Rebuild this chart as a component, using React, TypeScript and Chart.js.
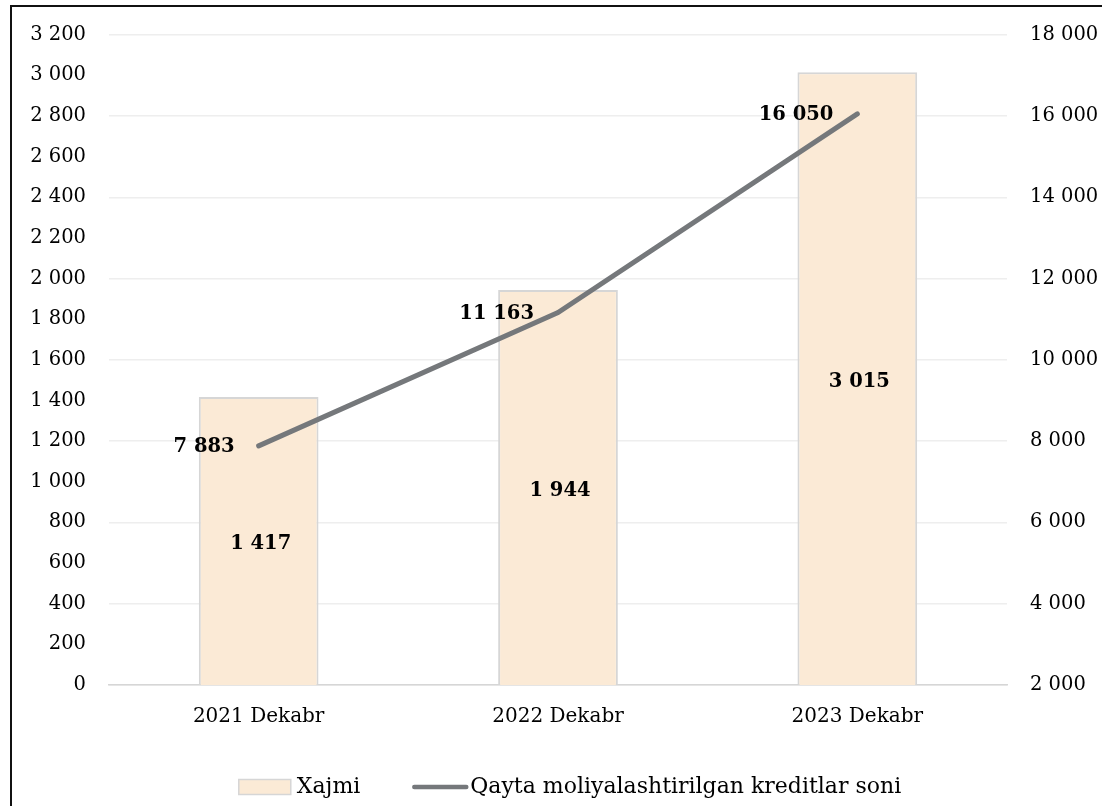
import React, { useEffect, useRef } from "react";
import { Chart, registerables } from "chart.js";

Chart.register(...registerables);

const categories = ["2021 Dekabr", "2022 Dekabr", "2023 Dekabr"];
const volumeValues = [1417, 1944, 3015];
const countValues = [7883, 11163, 16050];
const volumeLabel = "Xajmi";
const countLabel = "Qayta moliyalashtirilgan kreditlar soni";

const FONT = "'DejaVu Serif', serif";
const BAR_FILL = "#FBEAD6";
const BAR_BORDER = "#D6D6D6";
const LINE_COLOR = "#75787B";

const fmt = (v: number) => String(v).replace(/\B(?=(\d{3})+(?!\d))/g, " ");

const labelsPlugin = {
  id: "valueLabels",
  afterDatasetsDraw(chart: any) {
    const ctx = chart.ctx;
    ctx.save();
    ctx.fillStyle = "#000";
    ctx.font = `bold 19.5px ${FONT}`;
    ctx.textBaseline = "middle";
    const barMeta = chart.getDatasetMeta(0);
    barMeta.data.forEach((el: any, i: number) => {
      ctx.textAlign = "center";
      ctx.fillText(fmt(volumeValues[i]), el.x + 2, (el.y + el.base) / 2 + 3);
    });
    const lineMeta = chart.getDatasetMeta(1);
    lineMeta.data.forEach((el: any, i: number) => {
      ctx.textAlign = "right";
      ctx.fillText(fmt(countValues[i]), el.x - 24, el.y + 1);
    });
    ctx.restore();
  },
};

const legendPlugin = {
  id: "customLegend",
  afterDraw(chart: any) {
    const ctx = chart.ctx;
    ctx.save();
    ctx.font = `22px ${FONT}`;
    ctx.textBaseline = "middle";
    ctx.fillStyle = "#000";
    const y = 787;
    const boxW = 52;
    const lineW = 56;
    const w1 = ctx.measureText(volumeLabel).width;
    const w2 = ctx.measureText(countLabel).width;
    const total = boxW + 6 + w1 + 52 + lineW + 2 + w2;
    let x = 570 - total / 2;
    ctx.fillStyle = BAR_FILL;
    ctx.fillRect(x, y - 7.5, boxW, 15);
    ctx.strokeStyle = BAR_BORDER;
    ctx.lineWidth = 1.5;
    ctx.strokeRect(x, y - 7.5, boxW, 15);
    x += boxW + 6;
    ctx.fillStyle = "#000";
    ctx.textAlign = "left";
    ctx.fillText(volumeLabel, x, y);
    x += w1 + 52;
    ctx.strokeStyle = LINE_COLOR;
    ctx.lineWidth = 4.5;
    ctx.lineCap = "round";
    ctx.beginPath();
    ctx.moveTo(x + 2, y);
    ctx.lineTo(x + lineW - 2, y);
    ctx.stroke();
    x += lineW + 2;
    ctx.fillText(countLabel, x, y);
    ctx.restore();
  },
};

const framePlugin = {
  id: "frame",
  afterDraw(chart: any) {
    const ctx = chart.ctx;
    ctx.save();
    ctx.strokeStyle = "#111";
    ctx.lineWidth = 2;
    ctx.beginPath();
    ctx.moveTo(11, 806);
    ctx.lineTo(11, 6);
    ctx.lineTo(1102, 6);
    ctx.stroke();
    ctx.restore();
  },
};

export default function App() {
  const ref = useRef<HTMLCanvasElement>(null);
  useEffect(() => {
    if (!ref.current) return;
    const chart = new Chart(ref.current, {
      data: {
        labels: categories,
        datasets: [
          {
            type: "bar",
            label: volumeLabel,
            data: volumeValues,
            backgroundColor: BAR_FILL,
            borderColor: BAR_BORDER,
            borderWidth: 2,
            yAxisID: "y",
            barPercentage: 0.4,
            categoryPercentage: 1,
            order: 2,
          },
          {
            type: "line",
            label: countLabel,
            data: countValues,
            borderColor: LINE_COLOR,
            borderWidth: 5,
            borderCapStyle: "round",
            pointRadius: 0,
            yAxisID: "y1",
            order: 1,
          },
        ],
      } as any,
      options: {
        responsive: false,
        animation: false,
        layout: { padding: { top: 30, left: 0, right: 0, bottom: 0 } },
        plugins: { legend: { display: false }, tooltip: { enabled: false } },
        scales: {
          x: {
            grid: { display: false, drawTicks: false },
            border: { display: true, color: BAR_BORDER, width: 1.5 },
            ticks: { font: { family: FONT, size: 20 }, color: "#000", padding: 20 },
            afterFit(scale: any) {
              scale.height = 121;
            },
          },
          y: {
            position: "left",
            min: 0,
            max: 3200,
            grid: { display: false, drawTicks: false },
            border: { display: false },
            ticks: {
              stepSize: 200,
              font: { family: FONT, size: 19.5 },
              color: "#000",
              padding: 23,
              callback: (v: any) => fmt(Number(v)),
            },
            afterFit(scale: any) {
              scale.width = 109;
            },
          },
          y1: {
            position: "right",
            min: 2000,
            max: 18000,
            grid: { display: true, color: "#EEEEEE", lineWidth: 1.5, drawTicks: false },
            border: { display: false },
            ticks: {
              stepSize: 2000,
              font: { family: FONT, size: 19.5 },
              color: "#000",
              padding: 23,
              callback: (v: any) => fmt(Number(v)),
            },
            afterFit(scale: any) {
              scale.width = 95;
            },
          },
        },
      } as any,
      plugins: [labelsPlugin, legendPlugin, framePlugin],
    });
    return () => chart.destroy();
  }, []);
  return (
    <div style={{ position: "fixed", left: 0, top: 0, width: 1102, height: 806, overflow: "hidden", background: "#fff" }}>
      <canvas ref={ref} width={1102} height={806} style={{ display: "block", width: 1102, height: 806 }} />
    </div>
  );
}
